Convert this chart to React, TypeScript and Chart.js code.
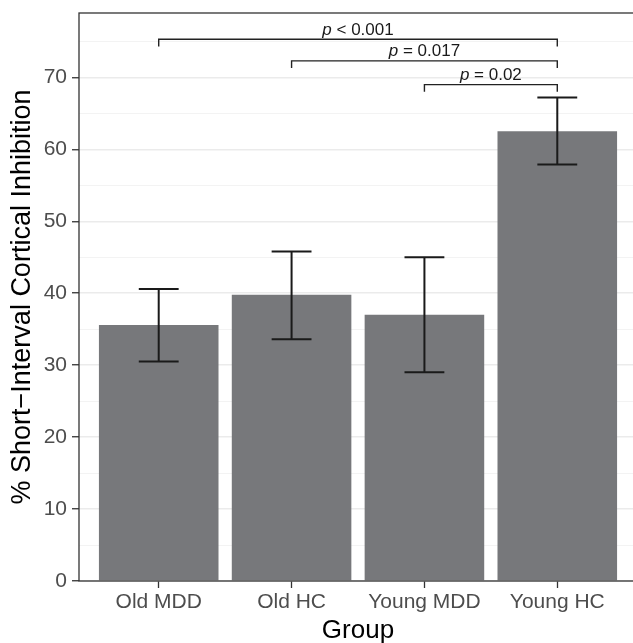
import React, { useEffect, useRef } from "react";
import { Chart, registerables } from "chart.js";

Chart.register(...registerables);

// ---- data ----
const groups = ["Old MDD", "Old HC", "Young MDD", "Young HC"];
const means = [35.6, 39.8, 37.0, 62.5];
const errLow = [30.5, 33.6, 29.0, 57.9];
const errHigh = [40.6, 45.8, 45.0, 67.2];
const yTicks = [0, 5, 10, 15, 20, 25, 30, 35, 40, 45, 50, 55, 60, 65, 70, 75];
const bracketFrom = [0, 1, 2];
const bracketTo = [3, 3, 3];
const bracketY = [75.3, 72.3, 69.0];
const bracketOp = ["<", "=", "="];
const bracketP = ["0.001", "0.017", "0.02"];

const FONT = "'Liberation Sans', Arial, Helvetica, sans-serif";

const overlay = {
  id: "overlay",
  afterDatasetsDraw(chart: any) {
    const { ctx, chartArea: ca, scales } = chart;
    const x = scales.x;
    const y = scales.y;
    ctx.save();
    // error bars
    ctx.strokeStyle = "#1A1A1A";
    ctx.lineWidth = 2;
    ctx.lineCap = "butt";
    for (let i = 0; i < groups.length; i++) {
      const cx = x.getPixelForValue(i);
      const hw = x.getPixelForValue(i + 0.15) - cx;
      const yl = y.getPixelForValue(errLow[i]);
      const yh = y.getPixelForValue(errHigh[i]);
      ctx.beginPath();
      ctx.moveTo(cx, yl);
      ctx.lineTo(cx, yh);
      ctx.moveTo(cx - hw, yh);
      ctx.lineTo(cx + hw, yh);
      ctx.moveTo(cx - hw, yl);
      ctx.lineTo(cx + hw, yl);
      ctx.stroke();
    }
    // significance brackets
    ctx.strokeStyle = "#222222";
    ctx.lineWidth = 1.4;
    ctx.fillStyle = "#1A1A1A";
    for (let k = 0; k < bracketY.length; k++) {
      const x1 = x.getPixelForValue(bracketFrom[k]);
      const x2 = x.getPixelForValue(bracketTo[k]);
      const by = y.getPixelForValue(bracketY[k]);
      const tip = y.getPixelForValue(bracketY[k] - 1);
      ctx.beginPath();
      ctx.moveTo(x1, tip);
      ctx.lineTo(x1, by);
      ctx.lineTo(x2, by);
      ctx.lineTo(x2, tip);
      ctx.stroke();
      const rest = " " + bracketOp[k] + " " + bracketP[k];
      ctx.font = "italic 17px " + FONT;
      const wp = ctx.measureText("p").width;
      ctx.font = "17px " + FONT;
      const wr = ctx.measureText(rest).width;
      const sx = (x1 + x2) / 2 - (wp + wr) / 2;
      ctx.textBaseline = "alphabetic";
      ctx.textAlign = "left";
      ctx.font = "italic 17px " + FONT;
      ctx.fillText("p", sx, by - 4.5);
      ctx.font = "17px " + FONT;
      ctx.fillText(rest, sx + wp, by - 4.5);
    }
    // panel border
    ctx.strokeStyle = "#333333";
    ctx.lineWidth = 1.3;
    ctx.strokeRect(ca.left, ca.top, ca.right - ca.left, ca.bottom - ca.top);
    ctx.restore();
  },
};

export default function App() {
  const ref = useRef<HTMLCanvasElement | null>(null);
  useEffect(() => {
    if (!ref.current) return;
    Chart.defaults.font.family = FONT;
    const chart = new Chart(ref.current, {
      type: "bar",
      data: {
        datasets: [
          {
            data: groups.map((_, i) => ({ x: i, y: means[i] })),
            backgroundColor: "#77787B",
            borderWidth: 0,
            barPercentage: 0.9,
            categoryPercentage: 1,
          },
        ],
      },
      options: {
        animation: false,
        responsive: false,
        devicePixelRatio: 1,
        layout: { padding: { top: 13, right: 3, left: 0, bottom: 0 } },
        plugins: { legend: { display: false }, tooltip: { enabled: false } },
        scales: {
          x: {
            type: "linear",
            offset: false,
            min: -0.6,
            max: 3.6,
            afterBuildTicks: (axis: any) => {
              axis.ticks = groups.map((_, i) => ({ value: i }));
            },
            afterFit: (scale: any) => {
              scale.height = 62;
              scale.paddingLeft = 0;
              scale.paddingRight = 0;
            },
            border: { display: false },
            grid: {
              offset: false,
              drawOnChartArea: false,
              drawTicks: true,
              tickLength: 7,
              tickColor: "#333333",
              tickWidth: 1.3,
            },
            ticks: {
              autoSkip: false,
              maxRotation: 0,
              padding: 2,
              color: "#4D4D4D",
              font: { size: 21 },
              callback: (v: any) => groups[Number(v)] ?? "",
            },
            title: {
              display: true,
              text: "Group",
              color: "#000000",
              font: { size: 26, lineHeight: 1 },
              padding: { top: 0, bottom: -1 },
            },
          },
          y: {
            type: "linear",
            min: 0,
            max: 78.95,
            afterBuildTicks: (axis: any) => {
              axis.ticks = yTicks.map((v) => ({ value: v }));
            },
            afterFit: (scale: any) => {
              scale.width = 79;
              scale.paddingTop = 0;
              scale.paddingBottom = 0;
            },
            border: { display: false },
            grid: {
              color: (c: any) => (c.tick && c.tick.value % 10 === 0 ? "#EBEBEB" : "#F3F3F3"),
              lineWidth: (c: any) => (c.tick && c.tick.value % 10 === 0 ? 1.5 : 1),
              tickLength: 7,
              tickColor: (c: any) => (c.tick && c.tick.value % 10 === 0 ? "#333333" : "rgba(0,0,0,0)"),
              tickWidth: 1.3,
            },
            ticks: {
              autoSkip: false,
              padding: 5,
              color: "#4D4D4D",
              font: { size: 21 },
              callback: (v: any) => (Number(v) % 10 === 0 ? String(v) : ""),
            },
            title: {
              display: true,
              text: "% Short\u2212Interval Cortical Inhibition",
              color: "#000000",
              font: { size: 27, lineHeight: 1 },
              padding: { top: 9, bottom: 0 },
            },
          },
        },
      },
      plugins: [overlay],
    } as any);
    return () => chart.destroy();
  }, []);
  return (
    <div
      style={{
        position: "fixed",
        left: 0,
        top: 0,
        width: 633,
        height: 643,
        overflow: "hidden",
        background: "#FFFFFF",
      }}
    >
      <canvas ref={ref} width={640} height={643} style={{ display: "block", width: 640, height: 643 }} />
    </div>
  );
}
